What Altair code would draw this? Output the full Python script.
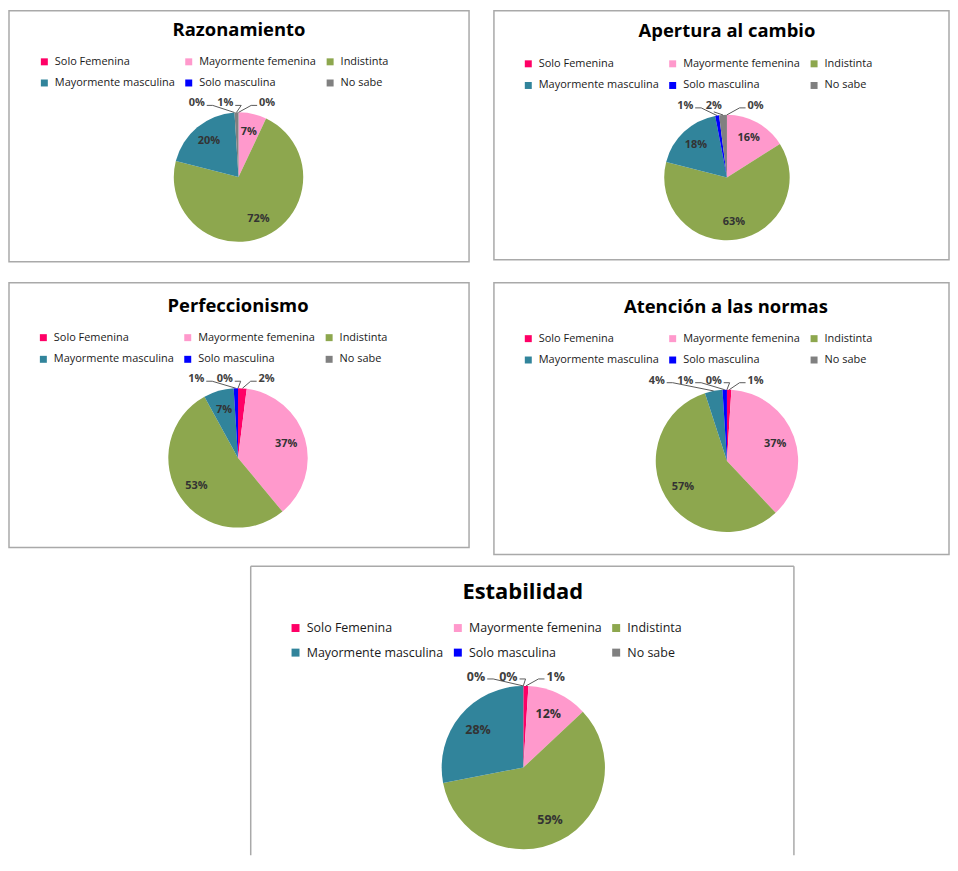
import math
import altair as alt
import pandas as pd

# ---------------- data ----------------
categories = ["Solo Femenina", "Mayormente femenina", "Indistinta",
              "Mayormente masculina", "Solo masculina", "No sabe"]
colors = ["#FF0066", "#FF99CC", "#8DA74E", "#31849B", "#0000FF", "#808080"]

titles = ["Razonamiento", "Apertura al cambio", "Perfeccionismo",
          "Atención a las normas", "Estabilidad"]

razonamiento = [0, 7, 72, 20, 0, 1]
apertura = [0, 16, 63, 18, 1, 2]
perfeccionismo = [2, 37, 53, 7, 1, 0]
atencion = [1, 37, 57, 4, 1, 0]
estabilidad = [1, 12, 59, 28, 0, 0]

series = [razonamiento, apertura, perfeccionismo, atencion, estabilidad]

# ---------------- layout (panel geometry) ----------------
FONT = "Open Sans"
geo = [
    dict(w=462, h=252, tx=231, ty=25, tfs=18.5, lx=30, ly=45.5, lfs=11, rp=9.5, ss=49, cx=230.5, cy=167, r=65, pfs=11),
    dict(w=457, h=250, tx=234, ty=26, tfs=18.5, lx=29, ly=47.5, lfs=11, rp=10, ss=49, cx=234, cy=167.5, r=63, pfs=11),
    dict(w=462, h=266, tx=230, ty=29, tfs=18.5, lx=29, ly=49.5, lfs=11, rp=10, ss=49, cx=230, cy=176, r=70, pfs=11),
    dict(w=457, h=273, tx=233, ty=30.5, tfs=18.5, lx=29, ly=50.5, lfs=11, rp=9.7, ss=49, cx=234, cy=179, r=71.5, pfs=11),
    dict(w=547, h=291, tx=274, ty=34, tfs=22, lx=39.5, ly=56.5, lfs=12.5, rp=11.8, ss=64, cx=274.5, cy=203, r=82, pfs=12.5),
]
FRAME = "#a9a9a9"


def outside_labels(values, g):
    """Place labels of thin slices in a row above the pie, with leader lines."""
    total = float(sum(values))
    mids, acc = [], 0.0
    for v in values:
        mids.append((acc + v / 2.0) / total * 360.0)
        acc += v
    small = [i for i, v in enumerate(values) if v < 5]
    left = sorted([i for i in small if mids[i] > 180], key=lambda i: (mids[i], i), reverse=True)
    right = sorted([i for i in small if mids[i] <= 180], key=lambda i: (mids[i], i))
    cx, cy, r = g["cx"], g["cy"], g["r"]
    ly = cy - r - 9
    hw = 0.9 * g["pfs"]
    step = 2.6 * g["pfs"]
    pos = {}
    for k, i in enumerate(left):
        pos[i] = cx - 1.2 * g["pfs"] - step * k
    for k, i in enumerate(right):
        pos[i] = cx + 2.6 * g["pfs"] + step * k
    labs, lines = [], []
    for i in small:
        lx = pos[i]
        a = math.radians(mids[i])
        tx, ty = cx + r * math.sin(a), cy - r * math.cos(a)
        labs.append(dict(px=lx, py=ly, lab=f"{values[i]}%"))
        if tx > lx + hw:
            pts = [(lx + hw, ly + 2), (lx + hw + 6, ly + 2), (tx, ty)]
        elif tx < lx - hw:
            pts = [(lx - hw, ly + 2), (lx - hw - 6, ly + 2), (tx, ty)]
        else:
            pts = [(lx, ly + 6), (tx, ty)]
        for o, (x, y) in enumerate(pts):
            lines.append(dict(lid=i, ord=o, px=x, py=y))
    return pd.DataFrame(labs), pd.DataFrame(lines)


def panel(i, framed=True):
    g = geo[i]
    values = series[i]
    df = pd.DataFrame({"cat": categories, "v": values, "idx": list(range(6))})
    df["inlab"] = [f"{v}%" if v >= 5 else "" for v in values]
    base = alt.Chart(df)
    legend = alt.Legend(
        orient="none", legendX=g["lx"], legendY=g["ly"], columns=3, direction="horizontal",
        title=None, symbolType="square", symbolSize=g["ss"], symbolStrokeWidth=0,
        labelFont=FONT, labelFontSize=g["lfs"], labelColor="#1a1a1a",
        columnPadding=8, rowPadding=g["rp"], labelOffset=5, padding=0, labelLimit=300,
    )
    arcs = base.mark_arc(outerRadius=g["r"]).encode(
        theta=alt.Theta("v:Q", stack=True),
        order=alt.Order("idx:Q"),
        color=alt.Color("cat:N", scale=alt.Scale(domain=categories, range=colors), legend=legend),
        x=alt.value(g["cx"]),
        y=alt.value(g["cy"]),
    )
    inner = base.mark_text(radius=0.72 * g["r"], font=FONT, fontSize=g["pfs"],
                           fontWeight="bold", color="#333333").encode(
        theta=alt.Theta("v:Q", stack=True),
        order=alt.Order("idx:Q"),
        detail="cat:N",
        text="inlab:N",
        x=alt.value(g["cx"]),
        y=alt.value(g["cy"]),
    )
    labs, lines = outside_labels(values, g)
    leader = alt.Chart(lines).mark_line(color="#595959", strokeWidth=1).encode(
        x=alt.X("px:Q", scale=None, axis=None),
        y=alt.Y("py:Q", scale=None, axis=None),
        detail="lid:N",
        order="ord:Q",
    )
    outer = alt.Chart(labs).mark_text(font=FONT, fontSize=g["pfs"], fontWeight="bold",
                                      color="#404040", align="center", baseline="middle").encode(
        x=alt.X("px:Q", scale=None, axis=None),
        y=alt.Y("py:Q", scale=None, axis=None),
        text="lab:N",
    )
    one = pd.DataFrame({"a": [0]})
    title = alt.Chart(one).mark_text(font=FONT, fontSize=g["tfs"], fontWeight="bold",
                                     color="#000000", align="center", baseline="alphabetic").encode(
        x=alt.value(g["tx"]), y=alt.value(g["ty"]), text=alt.value(titles[i]),
    )
    layers = [arcs, inner, leader, outer, title]
    if not framed:
        fr = alt.Chart(one).mark_rule(color=FRAME, strokeWidth=1.5)
        layers += [
            fr.encode(x=alt.value(0.75), y=alt.value(0.75), y2=alt.value(g["h"])),
            fr.encode(x=alt.value(0.75), x2=alt.value(g["w"] - 0.75), y=alt.value(0.75)),
            fr.encode(x=alt.value(g["w"] - 0.75), y=alt.value(0.75), y2=alt.value(g["h"])),
        ]
    ch = alt.layer(*layers).properties(width=g["w"], height=g["h"])
    if framed:
        ch = ch.properties(view=alt.ViewBackground(stroke=FRAME, strokeWidth=1.5))
    return ch


res = dict(color="independent", theta="independent")
p1, p2, p3, p4 = panel(0), panel(1), panel(2), panel(3)
p5 = panel(4, framed=False)

spacer = alt.Chart(pd.DataFrame({"a": [0]})).mark_rule(opacity=0).encode(
    x=alt.value(5), y=alt.value(5), y2=alt.value(15)).properties(width=242, height=20)

row1 = alt.hconcat(p1, p2, spacing=23).resolve_scale(**res)
row2 = alt.hconcat(p3, p4, spacing=23).resolve_scale(**res)
top = alt.vconcat(row1, row2, spacing=19).resolve_scale(**res)
row3 = alt.hconcat(spacer, p5, spacing=0).resolve_scale(**res)

chart = alt.vconcat(top, row3, spacing=10).resolve_scale(**res).properties(
    padding=0, background="white").configure_view(stroke=None)

chart.save("out.html", embed_options={"renderer": "svg", "actions": False})
